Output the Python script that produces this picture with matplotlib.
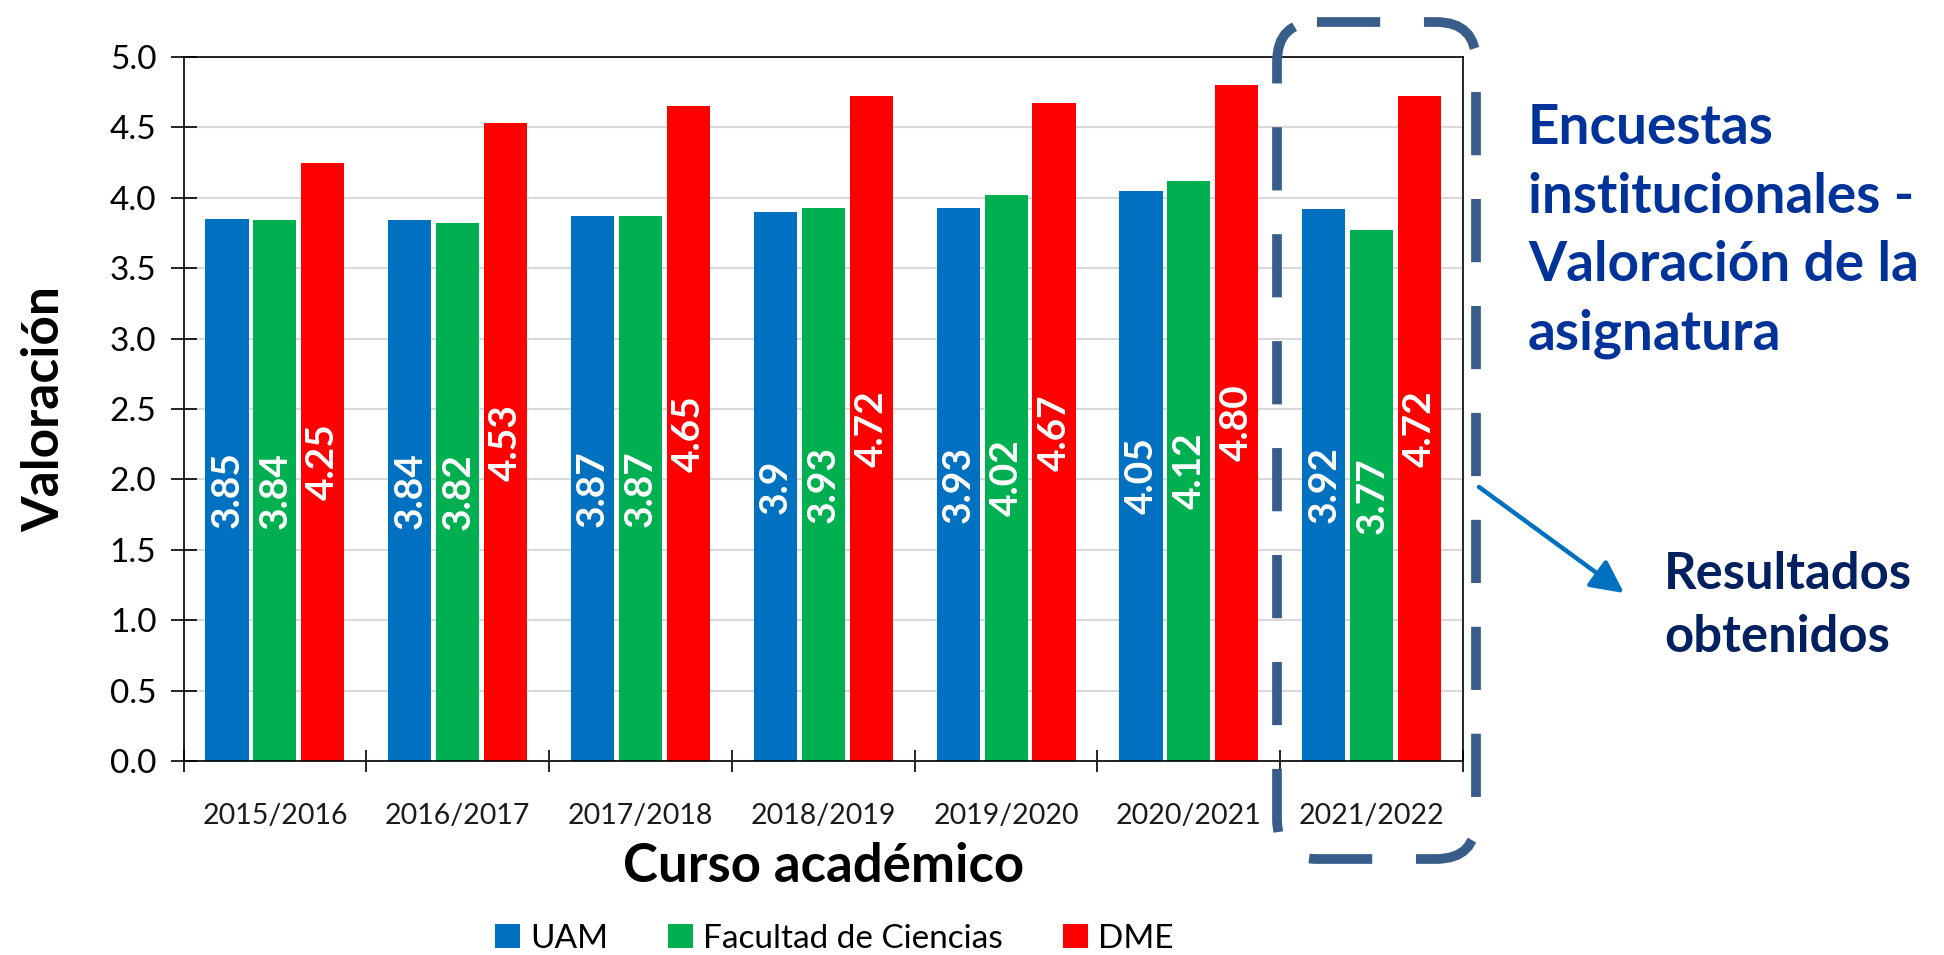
import numpy as np
import matplotlib
matplotlib.use("Agg")
from matplotlib import pyplot as plt
from matplotlib.patches import FancyBboxPatch

plt.rcParams['font.family'] = ['Lato', 'DejaVu Sans']

# valoracion media por curso (texto tal cual se rotula en cada barra)
cursos = ["2015/2016", "2016/2017", "2017/2018", "2018/2019",
          "2019/2020", "2020/2021", "2021/2022"]
uam = ["3.85", "3.84", "3.87", "3.9", "3.93", "4.05", "3.92"]
facultad = ["3.84", "3.82", "3.87", "3.93", "4.02", "4.12", "3.77"]
dme = ["4.25", "4.53", "4.65", "4.72", "4.67", "4.80", "4.72"]
series = ["UAM", "Facultad de Ciencias", "DME"]
colores = ["#0070C0", "#00B050", "#FF0000"]

fig = plt.figure(figsize=(19.44, 9.55), dpi=100)
ax = fig.add_axes([0.0944, 0.2031, 0.6582, 0.7372])

x = np.arange(len(cursos))
slot = 0.262
barras_todas = []
for i, (vals, nombre, col) in enumerate(zip([uam, facultad, dme], series, colores)):
    alturas = [float(v) for v in vals]
    b = ax.bar(x + (i - 1) * slot, alturas, width=slot * 0.9, color=col,
               label=nombre, zorder=2)
    ax.bar_label(b, labels=vals, label_type='center', rotation=90,
                 color='white', fontsize=28, fontweight='bold')
    barras_todas.append(b)

ax.set_xlim(-0.5, len(cursos) - 0.5)
ax.set_ylim(0, 5)
ax.set_yticks(np.arange(0, 5.01, 0.5))
ax.set_yticklabels([f"{v:.1f}" for v in np.arange(0, 5.01, 0.5)])
ax.set_xticks(x)
ax.set_xticklabels(cursos)
ax.set_xticks(np.arange(-0.5, len(cursos), 1), minor=True)

ax.set_axisbelow(True)
ax.grid(axis='y', color='#d9d9d9', linewidth=1.5)
for s in ax.spines.values():
    s.set_color('black')
    s.set_linewidth(1.2)

ax.tick_params(axis='y', direction='inout', length=19, width=1.2,
               labelsize=24, pad=10, colors='black')
ax.tick_params(axis='x', which='major', length=0, labelsize=20.5, pad=30,
               labelcolor='#1a1a1a')
ax.tick_params(axis='x', which='minor', direction='inout', length=16, width=1.2)

ax.set_ylabel("Valoración", fontsize=37, fontweight='bold')
ax.yaxis.set_label_coords(-0.09, 0.5)
ax.set_xlabel("Curso académico", fontsize=38, fontweight='bold')
ax.xaxis.set_label_coords(0.5, -0.115)

fig.legend(handles=barras_todas, loc='center', bbox_to_anchor=(0.429, 0.017),
           ncol=3, frameon=False, fontsize=24, handlelength=0.75,
           handleheight=0.75, handletextpad=0.3, columnspacing=1.8)

# capa en pixeles para el recuadro, la flecha y los textos
ov = fig.add_axes([0, 0, 1, 1])
ov.set_xlim(0, 1944)
ov.set_ylim(955, 0)
ov.axis('off')

caja = FancyBboxPatch((1277, 22), 199, 837,
                      boxstyle="round,pad=0,rounding_size=40",
                      fill=False, edgecolor='#385D8A', linewidth=7,
                      linestyle=(0, (6.5, 4.5)), capstyle='butt')
ov.add_patch(caja)

ov.annotate('', xy=(1624, 593), xytext=(1479, 487),
            arrowprops=dict(arrowstyle='-|>', color='#0070C0', lw=3.2,
                            mutation_scale=50, shrinkA=0, shrinkB=0))

ov.text(1528, 231, "Encuestas\ninstitucionales -\nValoración de la\nasignatura",
        ha='left', va='center', fontsize=39.5, fontweight='bold',
        color='#003399', linespacing=1.45)
ov.text(1664, 606, "Resultados\nobtenidos", ha='left', va='center',
        fontsize=36.5, fontweight='bold', color='#002060', linespacing=1.4)

fig.savefig("out.png", dpi=100)
